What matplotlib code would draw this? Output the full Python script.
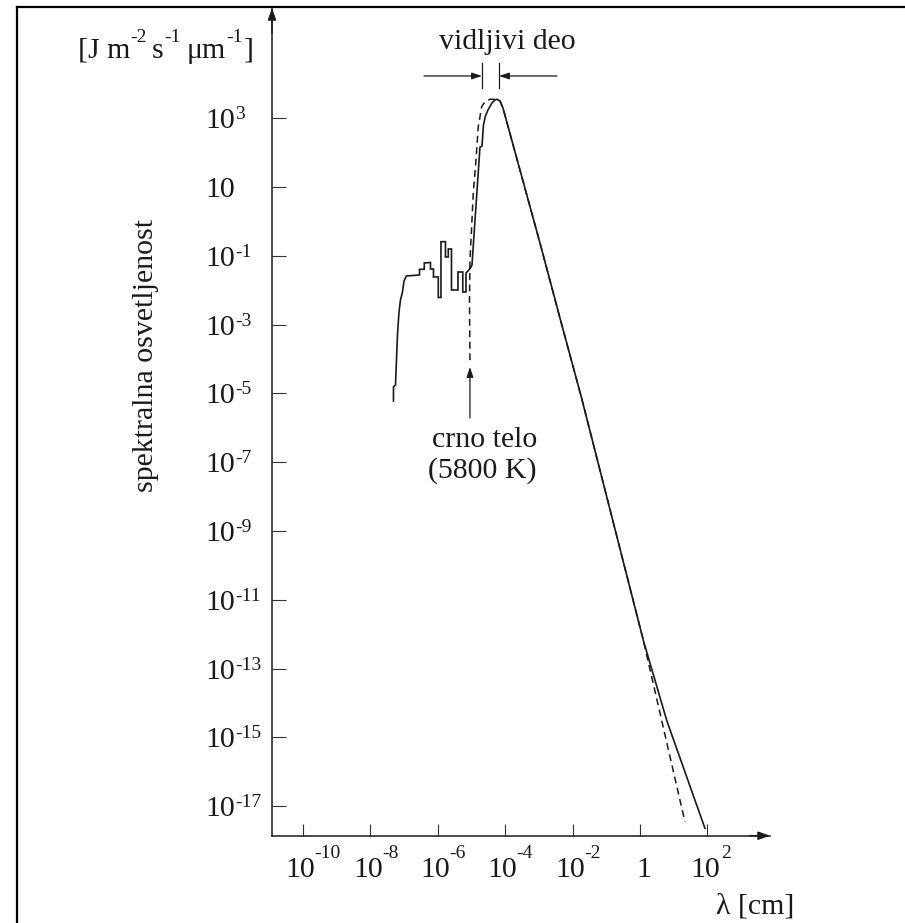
import numpy as np
import matplotlib
matplotlib.use("Agg")
import matplotlib.pyplot as plt
from matplotlib.lines import Line2D
from matplotlib.ticker import NullLocator

plt.rcParams['font.family'] = ['Liberation Serif', 'DejaVu Serif']

# ---- data (log10 of wavelength in cm, log10 of flux) ----
sun_log_lambda = [-7.315, -7.315, -7.255, -7.226, -7.196, -7.151, -7.107, -7.047, -7.003, -6.929,
                  -6.543, -6.543, -6.401, -6.401, -6.217, -6.217, -6.128, -6.128, -5.985, -5.985,
                  -5.905, -5.905, -5.772, -5.772, -5.688, -5.688, -5.593, -5.593, -5.401, -5.401,
                  -5.258, -5.258, -5.163, -5.163, -5.104, -5.030, -4.985, -4.748, -4.688, -4.644,
                  -4.585, -4.510, -4.392, -4.303, -4.243, -4.154, -4.065, -3.561, -2.967, -2.374,
                  -1.730, -0.356, 0.098, 0.800, 1.929]
sun_log_flux = [-5.218, -4.811, -4.753, -4.026, -3.299, -2.631, -2.282, -2.049, -1.730, -1.584,
                -1.555, -1.390, -1.390, -1.206, -1.192, -1.381, -1.381, -1.613, -1.613, -2.209,
                -2.209, -0.587, -0.587, -1.032, -1.032, -0.799, -0.799, -1.991, -1.991, -1.468,
                -1.468, -2.049, -2.049, -1.497, -1.439, -1.352, -1.265, 2.157, 2.195, 2.805,
                3.067, 3.241, 3.445, 3.532, 3.552, 3.503, 3.299, 1.497, -0.625, -2.805,
                -5.140, -10.422, -12.166, -14.520, -17.640]

bb_log_lambda = [-5.045, -5.059, -5.045, -4.994, -4.947, -4.866, -4.798, -4.697, -4.599, -4.451,
                 -4.252, -4.154, -4.065, -3.561, -2.967, -2.374, -1.730, -0.356, 0.098, 1.335]
bb_log_flux = [-4.030, -2.282, -1.119, -0.151, 0.828, 1.788, 2.756, 3.337, 3.483, 3.552,
               3.552, 3.503, 3.299, 1.497, -0.625, -2.805, -5.140, -10.422, -12.166, -17.448]

xtick_exps = [-10, -8, -6, -4, -2, 0, 2]
ytick_exps = [3, 1, -1, -3, -5, -7, -9, -11, -13, -15, -17]

visible_band = (-4.688, -4.184)      # log10 lambda of the two bars
bb_arrow_x = -5.045

W, H = 905, 923
FS = 21.5
FS_EXP = 14
INK = '#1a1a1a'

fig = plt.figure(figsize=(W / 100, H / 100), dpi=100)
ax_left, ax_right, ax_bottom, ax_top = 272, 770, 835.7, 8
ax = fig.add_axes([ax_left / W, (H - ax_bottom) / H, (ax_right - ax_left) / W, (ax_bottom - ax_top) / H])
ax.set_xscale('log')
ax.set_yscale('log')
ax.set_xlim(10 ** -10.92, 10 ** 3.86)
ax.set_ylim(10 ** -17.855, 10 ** 6.206)

for s in ('top', 'right'):
    ax.spines[s].set_visible(False)
for s in ('left', 'bottom'):
    ax.spines[s].set_linewidth(1.1)
    ax.spines[s].set_color(INK)

ax.set_xticks([10.0 ** e for e in xtick_exps])
ax.set_yticks([10.0 ** e for e in ytick_exps])
ax.xaxis.set_minor_locator(NullLocator())
ax.yaxis.set_minor_locator(NullLocator())
ax.tick_params(axis='x', direction='in', length=9, width=0.8, color='#333333', labelbottom=False)
ax.tick_params(axis='y', direction='in', length=10, width=0.8, color='#333333', labelleft=False)

# axis arrows
ax.annotate('', xy=(1, 0), xycoords='axes fraction', xytext=(0.96, 0),
            arrowprops=dict(arrowstyle='-|>,head_length=0.7,head_width=0.25', color=INK, lw=1.1,
                            shrinkA=0, shrinkB=0), annotation_clip=False)
ax.annotate('', xy=(0, 1), xycoords='axes fraction', xytext=(0, 0.97),
            arrowprops=dict(arrowstyle='-|>,head_length=0.7,head_width=0.25', color=INK, lw=1.1,
                            shrinkA=0, shrinkB=0), annotation_clip=False)

# tick labels
xt = ax.get_xaxis_transform()
for e in xtick_exps:
    if e == 0:
        ax.annotate('1', xy=(10.0 ** e, 0), xycoords=xt, xytext=(3.5, -41.3), textcoords='offset pixels',
                    ha='center', va='baseline', fontsize=FS, color=INK)
        continue
    ax.annotate('10', xy=(10.0 ** e, 0), xycoords=xt, xytext=(-2.5, -41.3), textcoords='offset pixels',
                ha='center', va='baseline', fontsize=FS, color=INK)
    ax.annotate(str(e), xy=(10.0 ** e, 0), xycoords=xt, xytext=(11.5 if e < 0 else 14, -22.3),
                textcoords='offset pixels', ha='left', va='baseline', fontsize=FS_EXP, color=INK)

yt = ax.get_yaxis_transform()
for e in ytick_exps:
    ax.annotate('10', xy=(0, 10.0 ** e), xycoords=yt, xytext=(-67, -10), textcoords='offset pixels',
                ha='left', va='baseline', fontsize=FS, color=INK)
    if e != 1:
        ax.annotate(str(e), xy=(0, 10.0 ** e), xycoords=yt, xytext=(-37, -1), textcoords='offset pixels',
                    ha='left', va='baseline', fontsize=FS_EXP, color=INK)

# curves
ax.plot(10 ** np.array(sun_log_lambda), 10 ** np.array(sun_log_flux), color=INK, lw=1.2,
        solid_joinstyle='miter')
ax.plot(10 ** np.array(bb_log_lambda), 10 ** np.array(bb_log_flux), color=INK, lw=1.1,
        ls=(0, (4.5, 3)))

# visible band bracket
y_bar_lo, y_bar_hi, y_arr = 10 ** 3.881, 10 ** 4.608, 10 ** 4.230
for v in visible_band:
    ax.plot([10 ** v, 10 ** v], [y_bar_lo, y_bar_hi], color=INK, lw=0.9, clip_on=False)
ax.annotate('', xy=(10 ** visible_band[0], y_arr), xytext=(10 ** -6.409, y_arr),
            arrowprops=dict(arrowstyle='-|>,head_length=0.6,head_width=0.2', color=INK, lw=0.9,
                            shrinkA=0, shrinkB=0))
ax.annotate('', xy=(10 ** visible_band[1], y_arr), xytext=(10 ** -2.463, y_arr),
            arrowprops=dict(arrowstyle='-|>,head_length=0.6,head_width=0.2', color=INK, lw=0.9,
                            shrinkA=0, shrinkB=0))

# black body arrow
ax.annotate('', xy=(10 ** bb_arrow_x, 10 ** -4.23), xytext=(10 ** bb_arrow_x, 10 ** -5.712),
            arrowprops=dict(arrowstyle='-|>,head_length=0.6,head_width=0.2', color=INK, lw=0.9,
                            shrinkA=0, shrinkB=0))


def P(x, y):
    return x / W, 1 - y / H


fig.text(*P(507.5, 49), 'vidljivi deo', ha='center', va='baseline', fontsize=FS, color=INK)
fig.text(*P(485, 447), 'crno telo', ha='center', va='baseline', fontsize=FS, color=INK)
fig.text(*P(482, 478), '(5800 K)', ha='center', va='baseline', fontsize=FS, color=INK)
fig.text(*P(716, 913), 'λ [cm]', ha='left', va='baseline', fontsize=FS, color=INK)
fig.text(*P(153, 355), 'spektralna osvetljenost', ha='center', va='baseline', rotation=90,
         rotation_mode='anchor', fontsize=FS, color=INK)

# unit label pieces
base_y, sup_y = 58, 42
fig.text(*P(78, base_y), '[J m', ha='left', va='baseline', fontsize=FS, color=INK)
fig.text(*P(130, sup_y), '-2', ha='left', va='baseline', fontsize=FS_EXP, color=INK)
fig.text(*P(152, base_y), 's', ha='left', va='baseline', fontsize=FS, color=INK)
fig.text(*P(164, sup_y), '-1', ha='left', va='baseline', fontsize=FS_EXP, color=INK)
fig.text(*P(187, base_y), 'μm', ha='left', va='baseline', fontsize=FS, color=INK)
fig.text(*P(226, sup_y), '-1', ha='left', va='baseline', fontsize=FS_EXP, color=INK)
fig.text(*P(244, base_y), ']', ha='left', va='baseline', fontsize=FS, color=INK)

# page frame
fig.add_artist(Line2D([17 / W, 17 / W], [0, 1 - 7 / H], transform=fig.transFigure, color='k', lw=1.6))
fig.add_artist(Line2D([17 / W, 1], [1 - 7 / H, 1 - 7 / H], transform=fig.transFigure, color='k', lw=1.6))

fig.savefig('out.png', dpi=100)
